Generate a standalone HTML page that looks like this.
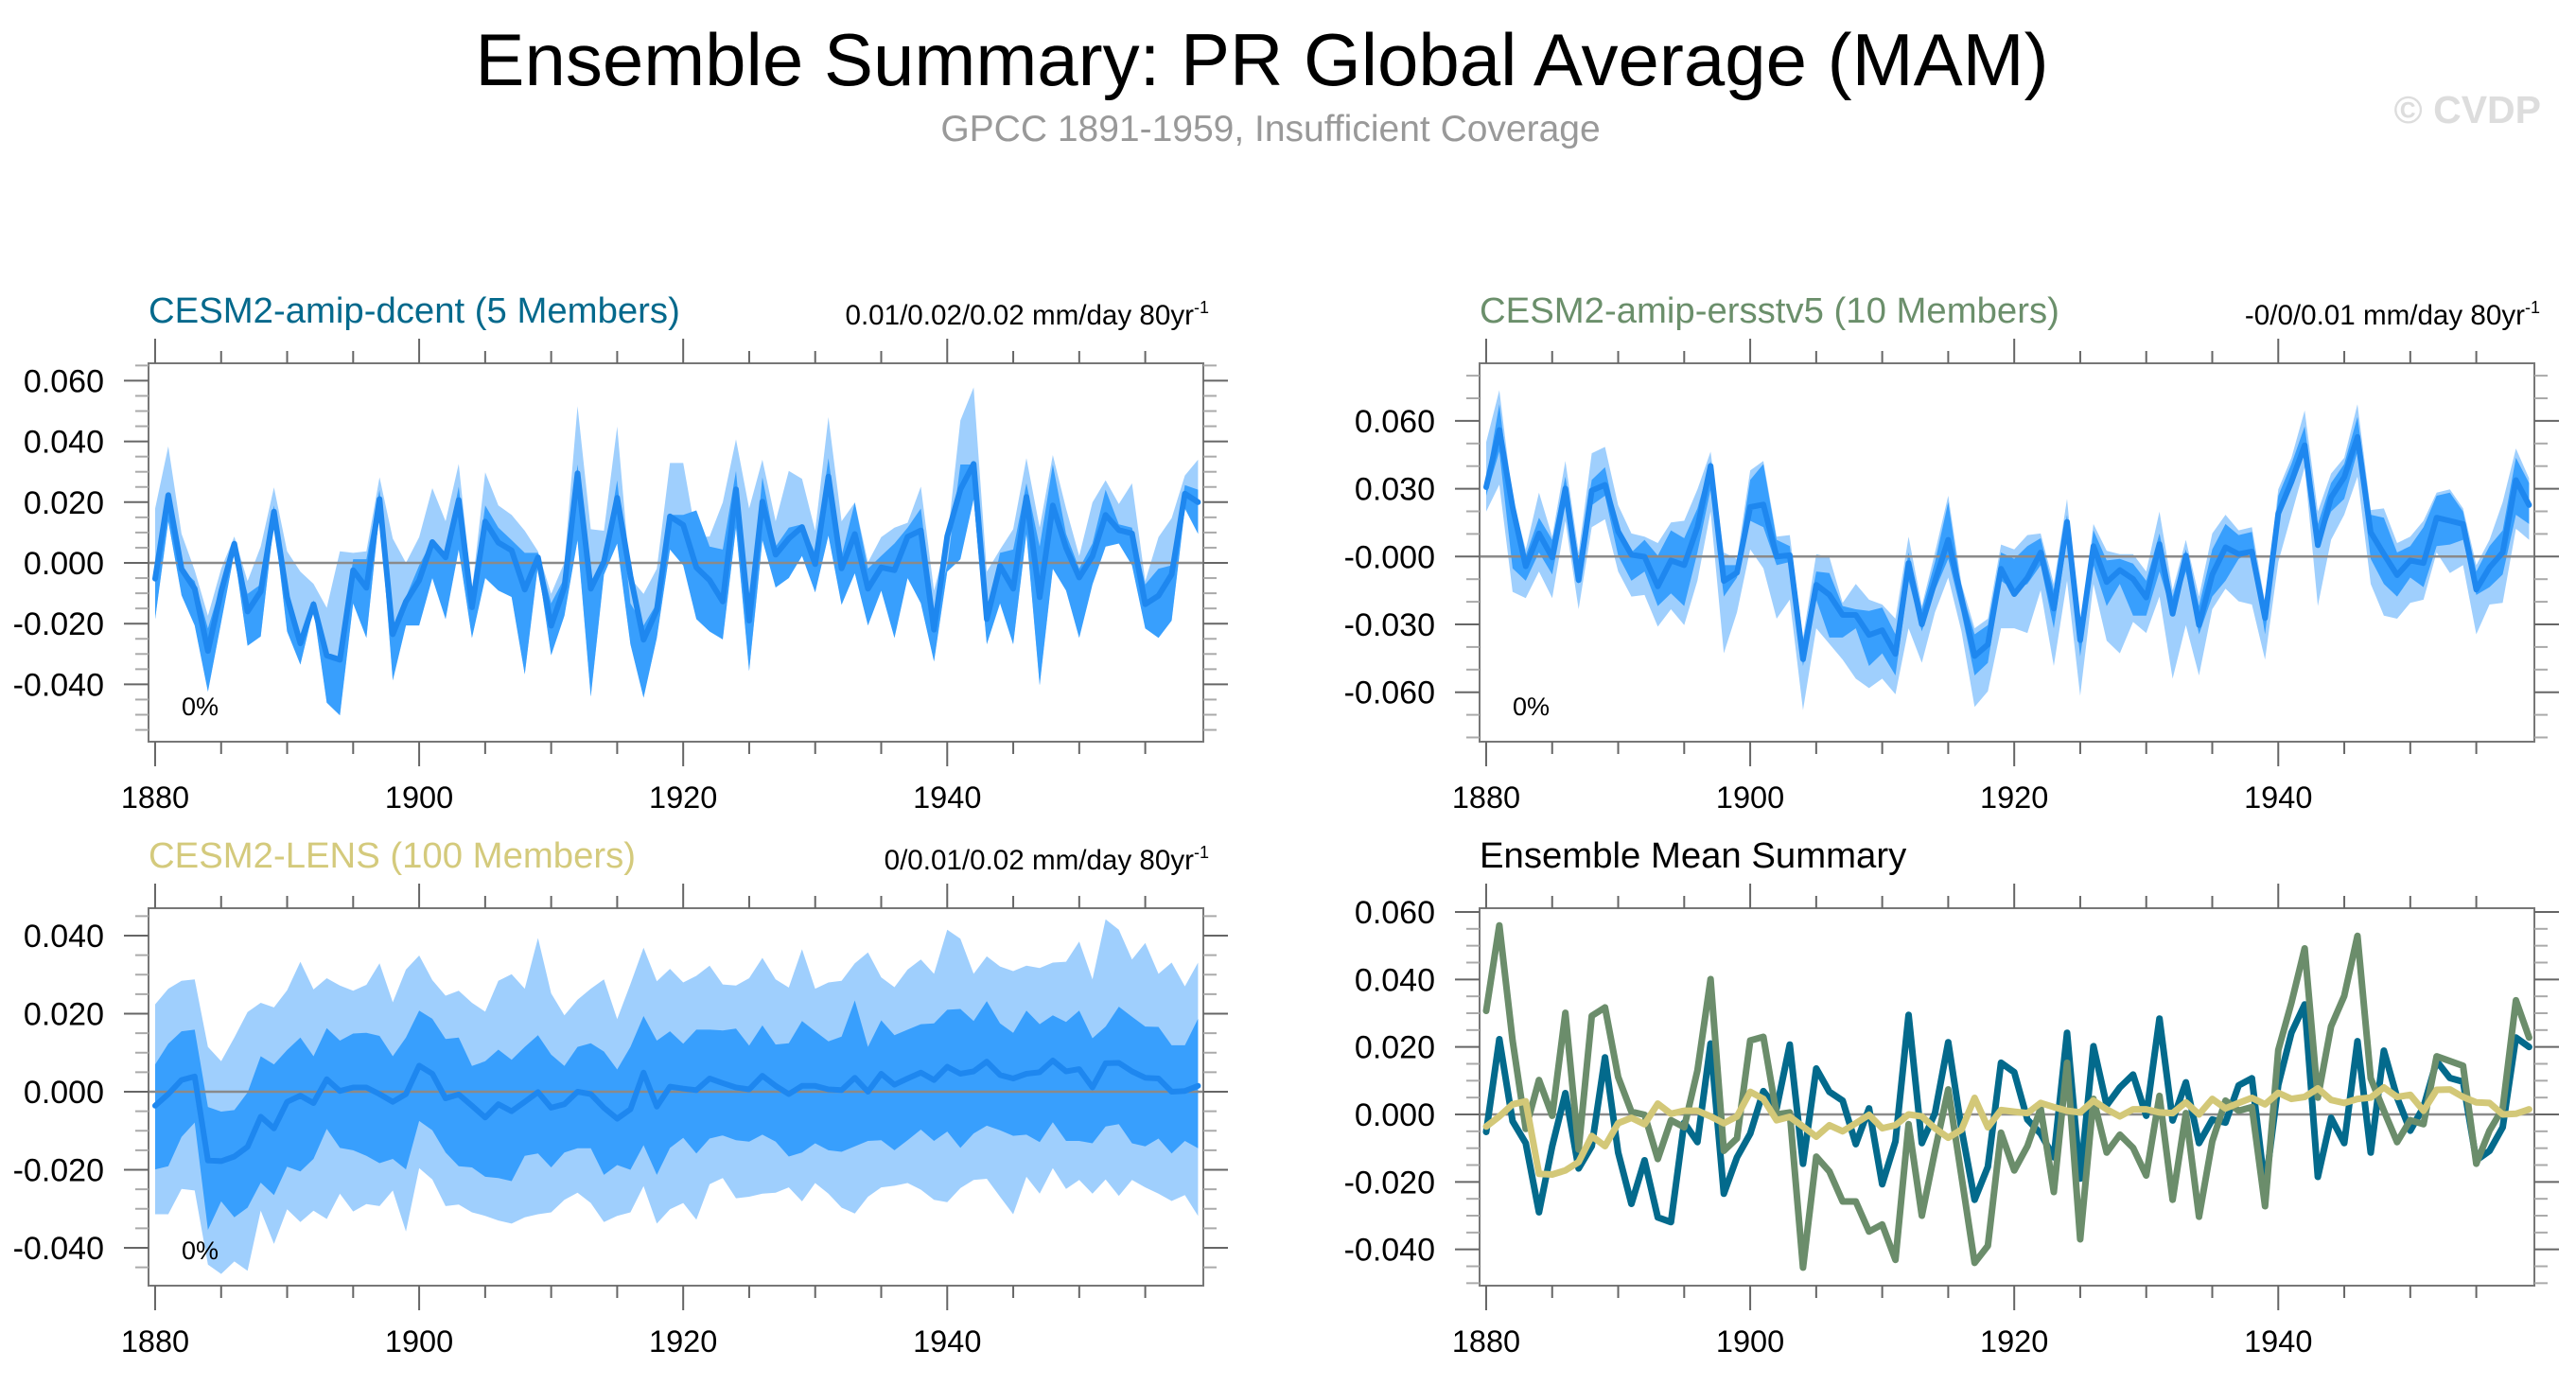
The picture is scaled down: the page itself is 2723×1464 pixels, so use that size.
<!DOCTYPE html>
<html><head><meta charset="utf-8"><title>Ensemble Summary: PR Global Average (MAM)</title>
<style>
html,body{margin:0;padding:0;background:#fff;}
svg{display:block;font-family:"Liberation Sans",Arial,sans-serif;}
</style></head>
<body>
<svg id="chart" xmlns="http://www.w3.org/2000/svg" width="2723" height="1464" viewBox="0 0 2723 1464">
<rect x="0" y="0" width="2723" height="1464" fill="#fff"/>
<text x="1334" y="90" font-size="78" text-anchor="middle" fill="#000">Ensemble Summary: PR Global Average (MAM)</text>
<text x="1343" y="149" font-size="39" text-anchor="middle" fill="#999">GPCC 1891-1959, Insufficient Coverage</text>
<text x="2686" y="130" font-size="41" font-weight="bold" text-anchor="end" fill="#ddd">© CVDP</text>
</svg>
<script>
// values in units of 0.001 mm/day, years 1880..1959
const years = Array.from({length:80},(_, i)=>1880+i);
const dcentMean = [-5.2,22.3,-2,-8.5,-29,-9.4,6.3,-16,-9.4,16.9,-11.3,-26.5,-13.6,-30.5,-31.9,-2.4,-8.2,21,-23.5,-12.7,-5.7,6.9,1.8,20.7,-14.6,13.6,6.7,4.1,-8.8,1.8,-20.7,-8,29.5,-8.5,0.4,21.4,-4.3,-25.3,-15.5,15.3,12.5,-1.5,-5.7,-12.7,24.2,-19,20.2,2.7,8,11.8,-0.4,28.4,-1.8,9.5,-8.5,-1.5,-2.4,8.6,10.7,-22,8.8,24.2,32.6,-18.5,-1,-8.5,21.7,-11.3,18.9,5,-4.8,2.2,15.8,10.8,9.7,-13.6,-10.8,-3.8,22.8,20];
const ersstMean = [30.7,56,21.9,-4.3,10.2,-0.4,30.1,-10.4,29.2,31.7,11.1,0.8,-0.1,-13.2,-1.7,-3.8,13,40.1,-10.8,-7.1,21.9,23,0,0.6,-45.4,-12.5,-16.9,-25.8,-25.8,-34.7,-32.6,-43.1,-2.9,-30,-10.8,7.4,-18.3,-44,-38.9,-5.4,-16.6,-9.4,1.8,-23,15.3,-37,4.6,-11.3,-6,-9.9,-18.1,5.5,-25.3,0.4,-30.3,-8,4.1,1.1,2.2,-27.2,19.1,33.1,49.2,5,26.1,35.1,52.9,10.7,1.1,-8.2,-1.7,-2.9,17.2,15.8,14.4,-14.6,-4.8,1.8,33.8,22.8];
const lensMean = [-3.6,-0.6,3,3.9,-17.6,-17.8,-16.6,-14.1,-6.4,-9.4,-2.6,-1,-2.9,3.2,0.2,1.1,1.1,-0.6,-2.6,-0.6,6.7,4.6,-1.7,-0.7,-3.6,-6.6,-3.2,-5,-2.6,-0.1,-4.1,-3.2,0,-0.6,-4.1,-6.9,-4.5,4.9,-3.8,1.3,0.8,0.4,3.4,2.2,1.1,0.6,4.1,1.5,-0.6,1.5,1.5,0.6,0.4,3.6,0,4.6,1.8,3.4,4.9,3,6.4,4.6,5.2,7.7,4.3,3.4,4.6,5,8,5.2,5.8,1.1,7.3,7.4,5.2,3.6,3.4,0,0.2,1.5];
const dcentMax = [17.9,38.4,9.6,-2.4,-17.4,-1.9,8.7,-6,5.4,24.9,3.8,-2.9,-6.9,-14.8,3.8,3.3,3.8,28.2,8,0,8.5,24.6,13.7,32.6,-9.1,29.8,18.9,15.8,10.6,3.8,-10.2,0.2,51.6,11.1,10.6,44.9,-5,-10.2,-1.9,32.9,32.9,8.5,8.7,19.9,40.7,17.9,34,13.7,30.3,27.7,10.6,48,13.7,19.9,0.2,8.5,11.6,13.2,25.1,-9.1,7.5,46.9,57.8,-2.9,4.4,11.1,34.5,11.6,35.5,17.9,2.3,19.9,27.2,19.4,26.2,-6,8.5,14.7,28.8,34];
const dcentUpper = [-3.4,22,-1.9,-6,-21.6,-7.1,5.9,-10.2,-7.1,18.9,-11.2,-25.8,-12.3,-29.9,-31,1.2,1.2,24.1,-21.6,-11.2,-0.8,7.5,3.3,25.1,-13.3,18.9,11.6,7.5,3.3,3.3,-13.3,-5,32.4,-7.1,1.2,27.2,-13.3,-20.6,-13.3,15.8,15.8,17.3,5.4,4.4,30.3,-16.4,28.2,5.4,11.6,12.7,3.3,34.5,2.3,19.9,-1.9,2.3,6.4,11.6,17.9,-17.4,-0.8,32.4,32.4,-16.4,3.3,4.4,26.2,5.4,32.4,9.6,-1.9,6.4,24.1,12.7,11.6,-7.1,-1.9,-0.8,25.6,24.1];
const dcentMin = [-18.5,13.7,-10.7,-20.6,-42.4,-19.5,3.3,-27.3,-24.2,13.7,-22.6,-33.5,-15.4,-46,-50.2,-13.3,-24.7,16.8,-38.7,-20.6,-20.6,-5,-18.5,4.4,-24.7,-5,-9.1,-11.2,-36.7,-0.8,-30.4,-17.4,7.5,-44,-3.9,6.4,-26.8,-44.4,-24.7,4.4,-0.8,-18.5,-22.6,-25.2,11.6,-35.6,7.5,-8.1,-5,2.3,-9.7,9,-13.8,-3.4,-20.6,-9.1,-24.7,-5,-13.3,-32.5,-2.9,1.2,21,-26.8,-13.3,-26.8,9.6,-40.3,-1.9,-9.1,-24.7,-7.1,5.4,6.4,-0.8,-21.6,-24.7,-19,17.9,9.6];
const ersstMax = [50.6,73.6,25.5,3.2,28.3,8.8,42.3,1.8,45.7,48.5,22.7,10.2,8.8,6,15.1,15.8,29.7,46.4,1.8,-1,38.1,42.3,8.8,9.5,-35.8,1.1,-0.3,-20.5,-12.1,-19.1,-21.2,-27.5,8.8,-21.9,1.8,26.9,-12.1,-31.7,-27.5,5.3,3.2,9.5,10.2,-12.1,25.5,-34.4,14.4,2.5,1.1,1.1,-6.6,19.9,-14.9,7.4,-17.7,10.2,18.5,11.6,13,-20.5,29.7,43.7,64.6,19.9,36.7,43.7,67.4,20.6,21.3,6,8.8,15.8,28.3,29.7,21.3,-3.8,7.4,24.1,47.8,34.6];
const ersstUpper = [33.9,67.4,19.9,0.4,17.2,7.4,35.3,-1,33.9,39.5,13,1.8,7.4,0.4,11.6,8.1,21.3,42.3,-3.8,-3.8,33.9,40.9,7.4,4.6,-37.2,-6.6,-7.3,-21.9,-23.3,-24,-22.6,-34.4,1.8,-23.3,-2.4,24.1,-15,-34.4,-30.3,1.8,-1,4.6,8.1,-15,18.5,-37.2,11.6,-1.7,-1,-3.1,-10.7,10.2,-17.7,3.2,-21.9,3.2,14.4,9.5,10.9,-26.1,26.9,40.9,57.6,14.4,32.5,40.9,61.8,18.5,17.2,1.8,4.6,13,26.9,28.3,19.9,-6.6,4.6,11.6,43.7,32.5];
const ersstLower = [26.9,46.4,-5.2,-10.7,1.8,-7.9,22.7,-12.1,22.7,26.9,0.4,-10.7,-6.6,-21.9,-16.3,-21.9,1.8,29.7,-17.7,-9.3,15.8,13,-3.8,-2.4,-48.4,-19.1,-35.8,-35.8,-31.7,-48.4,-42.8,-52.6,-10.7,-33.1,-14.9,-1,-24.7,-52.6,-47,-10.7,-14.9,-12.1,-3.8,-31.7,7.4,-44.2,-3.8,-21.9,-12.1,-26.1,-26.1,-6.6,-26.1,-6.6,-34.4,-17.7,-10.7,-1,1.8,-34.4,15.8,32.5,45,4.6,19.9,25.5,46.4,-1,-12.1,-17.7,-9.3,-13.5,4.6,5.3,7.4,-17,-13.5,-7.9,18.5,14.4];
const ersstMin = [19.9,31.8,-15.6,-18.4,-6.6,-18.4,15.8,-23.3,13,16.5,-6.6,-17.7,-17,-31,-23.3,-30.3,-10.7,19.9,-42.8,-24.7,3.2,-5.2,-27.5,-19.1,-67.9,-31.7,-38.6,-45.6,-54,-58.2,-54,-60.9,-31.7,-47,-24.7,-9.3,-33.1,-66.5,-59.6,-31.7,-31.7,-33.8,-14.9,-48.4,-10.7,-61.6,-12.1,-37.2,-42.8,-28.9,-33.8,-17.7,-54,-30.3,-52.6,-23.3,-14.2,-19.8,-21.2,-45.6,-2.4,18.5,39.5,-21.9,7.4,18.5,35.3,-12.1,-26.1,-27.5,-20.5,-19.1,1.8,-7.3,-3.8,-34.4,-21.2,-20.5,12.3,7.4];
const lensMax = [22.4,26.4,28.4,28.8,11.5,7.8,13.9,20.4,22.8,21.6,26,33.3,26.2,29.1,27.2,25.9,27.4,32.9,22.9,31.3,34.9,28.6,24.6,25.9,22.8,20.5,28.4,30.1,26.4,39.4,25.2,19.6,23.6,26.4,28.8,18.6,27.6,36.9,28.3,31.5,28,29.7,32.3,27.5,27.2,29.1,34.3,28.8,26.7,36.5,26.4,28,28.4,32.9,35.7,29.3,26.8,31.3,33.9,30.2,41.5,39.2,30.2,34.7,32.1,30.9,32.3,31.7,33.1,33.3,38.5,28.8,44.2,41.5,33.9,38.1,30.2,33.1,27,33.1];
const lensUpper = [7,12.3,15.5,15.9,-3.9,-5.1,-4.7,-0.2,9.1,7,10.7,13.9,9.1,16.3,13.1,14.9,15.1,14.3,9.1,13.9,20.8,18.7,13.5,13.9,6.6,7.8,10.8,8.2,11.5,14.5,9.5,6.6,11.5,12.4,10.3,5.7,11.5,19.4,13.1,15.5,12.3,15.9,15.9,15.7,16.2,11.8,17,12.1,12.4,18.1,15.5,12.9,14.1,23.4,11.5,18.3,14.5,15.9,17.3,17.5,21,21.2,18.1,23.2,17.5,15.1,20.8,17.3,19.6,17.9,20.8,13.7,16.7,21.8,19.2,16.7,16.6,11.9,11.9,18.7];
const lensLower = [-19.9,-19.1,-11.6,-7.9,-35.4,-28.1,-32.2,-29.7,-23.3,-26.5,-19.2,-20.4,-17.2,-9.5,-14.4,-15,-16.4,-18.3,-17.2,-19.9,-7.5,-9.9,-15.6,-19.1,-19.4,-21.8,-22.1,-22.9,-16.4,-15.8,-19.4,-15.6,-14.5,-14.5,-21.3,-18.8,-20,-13.7,-21.3,-14.4,-11.8,-15.8,-12,-11.2,-12.4,-12.8,-11,-12.8,-16.6,-15.6,-13.2,-15,-15.4,-14,-12.6,-12.4,-15,-12.4,-9.7,-12.6,-10.2,-14.4,-10.7,-8.7,-9.9,-11.3,-11,-12.9,-7.8,-12.6,-12.6,-13.2,-8.9,-8.3,-13.2,-14,-12,-15.8,-12.6,-14.5];
const lensMin = [-31.4,-31.4,-24.9,-25.3,-44.3,-46.7,-43.5,-45.9,-30.5,-39,-30.1,-33.4,-30.5,-32.6,-26.1,-30.7,-28.8,-29.3,-25.3,-35.8,-19.6,-22.5,-29.3,-28.9,-30.9,-31.8,-33,-33.8,-32.2,-31.4,-30.9,-27.7,-25.9,-28.5,-33.4,-31.8,-30.9,-24.2,-33.8,-30.1,-28.5,-32.8,-23.7,-22.1,-27.3,-26.9,-26.1,-25.9,-24.5,-28.1,-23.4,-26.1,-29.7,-31.2,-26.9,-24.5,-24.1,-23.4,-25.1,-27.7,-28.3,-24.7,-22.6,-22.3,-26.9,-31.4,-21.8,-26.1,-19.6,-24.9,-22.6,-26.1,-22.5,-26.7,-22.6,-24.5,-26.1,-28,-26.5,-31.8];
const xTickYears = [1880,1900,1920,1940];
const p1Ticks = [60,40,20,0,-20,-40];
const p1TickLabels = ["0.060","0.040","0.020","0.000","-0.020","-0.040"];
const p2Ticks = [60,30,0,-30,-60];
const p2TickLabels = ["0.060","0.030","-0.000","-0.030","-0.060"];
const p3Ticks = [40,20,0,-20,-40];
const p3TickLabels = ["0.040","0.020","0.000","-0.020","-0.040"];
const p4Ticks = [60,40,20,0,-20,-40];
const p4TickLabels = ["0.060","0.040","0.020","0.000","-0.020","-0.040"];

const NS = "http://www.w3.org/2000/svg";
const svg = document.getElementById('chart');
function mk(tag, attrs, parent){
  const e = document.createElementNS(NS, tag);
  for (const k in attrs) e.setAttribute(k, attrs[k]);
  (parent||svg).appendChild(e);
  return e;
}
const LIGHT="#9fcffd", DARK="#389ffd", MEANC="#1e87ef";

function makePanel(cfg){
  const g = mk('g', {});
  
  
  const X = yr => cfg.x0 + (yr - 1879.5) / (1959.4 - 1879.5) * (cfg.x1 - cfg.x0);
  const Y = v => cfg.zy - v * cfg.k;
  const clipId = cfg.name + '-clip';
  const cp = mk('clipPath', {id: clipId}, g);
  mk('rect', {x: cfg.x0, y: cfg.y0, width: cfg.x1-cfg.x0, height: cfg.y1-cfg.y0}, cp);
  const plot = mk('g', {'clip-path': 'url(#'+clipId+')'}, g);
  
  
  function band(lo, hi, color, nm){
    let d = '';
    years.forEach((yr,i)=>{ d += (i? 'L':'M') + X(yr).toFixed(1) + ',' + Y(hi[i]).toFixed(1); });
    for (let i = years.length-1; i >= 0; i--) d += 'L' + X(years[i]).toFixed(1) + ',' + Y(lo[i]).toFixed(1);
    const p = mk('path', {d: d+'Z', fill: color}, plot);
    
    
  }
  function line(vals, color, w, nm){
    let d = '';
    years.forEach((yr,i)=>{ d += (i? 'L':'M') + X(yr).toFixed(1) + ',' + Y(vals[i]).toFixed(1); });
    const p = mk('path', {d: d, fill: 'none', stroke: color, 'stroke-width': w, 'stroke-linejoin': 'round', 'stroke-linecap': 'round'}, plot);
    
    
  }
  (cfg.bands||[]).forEach(b => band(b[0], b[1], b[2], b[3]));
  const zl = mk('line', {x1: cfg.x0, x2: cfg.x1, y1: Y(0), y2: Y(0), stroke: '#8a8a8a', 'stroke-width': 2.5}, plot);
  
  
  (cfg.lines||[]).forEach(l => line(l[0], l[1], l[2], l[3]));
  const fr = mk('rect', {x: cfg.x0, y: cfg.y0, width: cfg.x1-cfg.x0, height: cfg.y1-cfg.y0, fill: 'none', stroke: '#777', 'stroke-width': 2}, g);
  
  
  for (let yr = 1880; yr <= 1955; yr += 5){
    const major = (yr % 20 === 0);
    const L = major ? 26 : 13;
    const x = X(yr);
    mk('line', {x1: x, x2: x, y1: cfg.y0, y2: cfg.y0 - L, stroke: '#666', 'stroke-width': 2}, g);
    mk('line', {x1: x, x2: x, y1: cfg.y1, y2: cfg.y1 + L, stroke: '#666', 'stroke-width': 2}, g);
  }
  xTickYears.forEach(yr => {
    const t = mk('text', {x: X(yr), y: cfg.y1 + 70, 'font-size': 32.5, 'text-anchor': 'middle', fill: '#000'}, g);
    t.textContent = String(yr);
    
    
  });
  const vTop = (cfg.zy - cfg.y0) / cfg.k, vBot = (cfg.zy - cfg.y1) / cfg.k;
  for (let v = Math.ceil(vBot / cfg.minor) * cfg.minor; v <= vTop; v += cfg.minor){
    const y = Y(v);
    const isMajor = cfg.ticks.some(t => Math.abs(t - v) < 1e-6);
    const L = isMajor ? 26 : 14;
    mk('line', {x1: cfg.x0, x2: cfg.x0 - L, y1: y, y2: y, stroke: isMajor ? '#666' : '#aaa', 'stroke-width': 2}, g);
    mk('line', {x1: cfg.x1, x2: cfg.x1 + L, y1: y, y2: y, stroke: isMajor ? '#666' : '#aaa', 'stroke-width': 2}, g);
  }
  cfg.ticks.forEach((v, i) => {
    const t = mk('text', {x: cfg.x0 - 47, y: Y(v) + 12, 'font-size': 34, 'text-anchor': 'end', fill: '#000'}, g);
    t.textContent = cfg.tickLabels[i];
    
    
  });
  const tt = mk('text', {x: cfg.x0, y: cfg.y0 - 43, 'font-size': 38.3, fill: cfg.titleColor}, g);
  tt.textContent = cfg.title;
  
  
  if (cfg.trend){
    const tr = mk('text', {x: cfg.x1 + 6, y: cfg.y0 - 41, 'font-size': 29.6, 'text-anchor': 'end', fill: '#000'}, g);
    
    
    const a = mk('tspan', {}, tr); a.textContent = cfg.trend + ' 80yr';
    const b = mk('tspan', {dy: -12, 'font-size': 18}, tr); b.textContent = '-1';
  }
  if (cfg.pct){
    const p = mk('text', {x: cfg.x0 + 35, y: cfg.y1 - 28, 'font-size': 27, fill: '#000'}, g);
    p.textContent = '0%';
    
    
  }
}

makePanel({name:'panel-amip-dcent', x0:157, x1:1272, y0:384, y1:784, zy:595, k:3.21, minor:5,
  ticks:p1Ticks, tickLabels:p1TickLabels, title:'CESM2-amip-dcent (5 Members)', titleColor:'#04698c',
  trend:'0.01/0.02/0.02 mm/day', pct:true,
  bands:[[dcentMin, dcentMax, LIGHT, 'range-band'], [dcentMin, dcentUpper, DARK, 'spread-band']],
  lines:[[dcentMean, MEANC, 6, 'ensemble-mean-line']]});
makePanel({name:'panel-amip-ersstv5', x0:1564, x1:2679, y0:384, y1:784, zy:588.3, k:2.39, minor:10,
  ticks:p2Ticks, tickLabels:p2TickLabels, title:'CESM2-amip-ersstv5 (10 Members)', titleColor:'#6b8f6b',
  trend:'-0/0/0.01 mm/day', pct:true,
  bands:[[ersstMin, ersstMax, LIGHT, 'range-band'], [ersstLower, ersstUpper, DARK, 'spread-band']],
  lines:[[ersstMean, MEANC, 6, 'ensemble-mean-line']]});
makePanel({name:'panel-lens', x0:157, x1:1272, y0:960, y1:1359, zy:1154, k:4.125, minor:5,
  ticks:p3Ticks, tickLabels:p3TickLabels, title:'CESM2-LENS (100 Members)', titleColor:'#d4ca7c',
  trend:'0/0.01/0.02 mm/day', pct:true,
  bands:[[lensMin, lensMax, LIGHT, 'range-band'], [lensLower, lensUpper, DARK, 'spread-band']],
  lines:[[lensMean, MEANC, 6, 'ensemble-mean-line']]});
makePanel({name:'panel-ensemble-mean-summary', x0:1564, x1:2679, y0:960, y1:1359, zy:1178, k:3.567, minor:5,
  ticks:p4Ticks, tickLabels:p4TickLabels, title:'Ensemble Mean Summary', titleColor:'#000',
  lines:[[dcentMean, '#036a8c', 7, 'dcent-mean-line'], [ersstMean, '#6b8d6b', 7, 'ersstv5-mean-line'], [lensMean, '#d3c878', 7, 'lens-mean-line']]});
</script>
</body></html>
